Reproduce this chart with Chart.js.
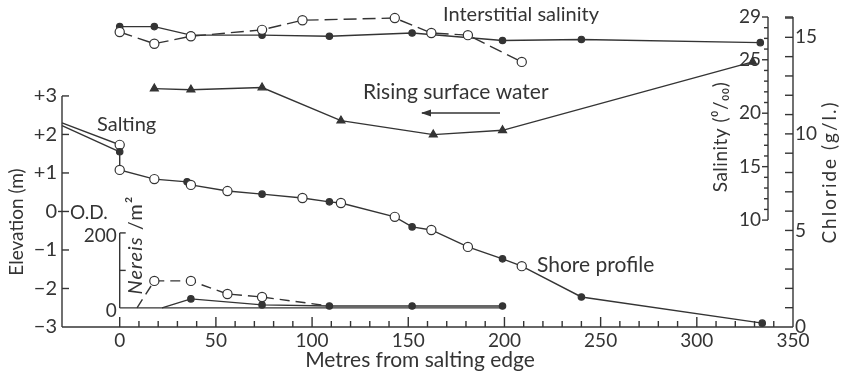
<!DOCTYPE html>
<html>
<head>
<meta charset="utf-8">
<script src="https://cdn.jsdelivr.net/npm/chart.js@4.4.1/dist/chart.umd.min.js"></script>
<style>
  html, body { margin: 0; padding: 0; background: #fff; }
  #wrap { width: 842px; height: 376px; }
</style>
</head>
<body>
<div id="wrap"><canvas id="chart" width="842" height="376"></canvas></div>
<script>
// Distances are metres from the salting edge, elevation in m (O.D.),
// salinity in parts per thousand, Nereis in individuals per m2.

// Shore profile (o = open circle survey, f = filled circle survey, - = no marker)
const profileM     = [-30, 0, 0, 0, 18, 35, 37, 56, 74, 95, 109, 115, 143, 152, 162, 181, 199, 209, 240, 334];
const profileElev  = [2.30, 1.73, 1.55, 1.08, 0.84, 0.77, 0.69, 0.53, 0.45, 0.35, 0.25, 0.22, -0.14, -0.40, -0.48, -0.92, -1.23, -1.42, -2.22, -2.90];
const profileMarks = ['-', 'o', 'f', 'o', 'o', 'f', 'o', 'o', 'f', 'o', 'f', 'o', 'o', 'f', 'o', 'o', 'f', 'o', 'f', 'f'];
// second line over the salting
const saltingM    = [-30, 0];
const saltingElev = [2.23, 1.55];

// Interstitial salinity
const interFilledM   = [0, 18, 37, 74, 109, 152, 199, 240, 333];
const interFilledSal = [28.1, 28.1, 27.3, 27.3, 27.2, 27.5, 26.8, 26.9, 26.6];
const interOpenM     = [0, 18, 37, 74, 95, 143, 162, 181, 209];
const interOpenSal   = [27.6, 26.5, 27.2, 27.8, 28.7, 28.9, 27.5, 27.3, 24.8];

// Rising surface water
const surfaceM   = [18, 37, 74, 115, 163, 199, 329];
const surfaceSal = [22.3, 22.2, 22.4, 19.3, 18.0, 18.4, 24.8];

// Nereis density
const nereisOpenM    = [9, 18, 37, 56, 74, 109];
const nereisOpenN    = [0, 72, 72, 37, 29, 5];
const nereisOpenMk   = ['-', 'o', 'o', 'o', 'o', '-'];
const nereisFilledM  = [22, 37, 74, 109, 152, 199];
const nereisFilledN  = [0, 24, 8, 5, 5, 5];
const nereisFilledMk = ['-', 'f', 'f', 'f', 'f', 'f'];

// axes
const xTicks      = [0, 50, 100, 150, 200, 250, 300, 350];
const elevTicks   = [3, 2, 1, 0, -1, -2, -3];
const salTicks    = [10, 15, 20, 25, 29];
const chlTicks    = [0, 5, 10, 15];
const nereisTicks = [0, 200];
const SAL_PER_CL  = 1.80655;

const INK = '#343434';
const FONT = 'Lato, "Open Sans", sans-serif';

function pts(xs, ys) {
    return xs.map((x, i) => ({ x: x, y: ys[i] }));
}
function markFill(marks) {
    return marks.map(m => m === 'f' ? INK : '#fff');
}
function markRadius(marks) {
    return marks.map(m => m === 'o' ? 4.6 : (m === 'f' ? 3.2 : 0));
}

function line(ctx, x1, y1, x2, y2) {
    ctx.beginPath();
    ctx.moveTo(x1, y1);
    ctx.lineTo(x2, y2);
    ctx.stroke();
}

// text drawn in runs so that parts can be italic; rotated when vertical
function drawRuns(ctx, runs, cx, cy, vertical, spacing) {
    ctx.save();
    ctx.letterSpacing = spacing || '0px';
    let total = 0;
    runs.forEach(r => { ctx.font = r.font; total += ctx.measureText(r.text).width; });
    ctx.translate(cx, cy);
    if (vertical) ctx.rotate(-Math.PI / 2);
    ctx.textAlign = 'left';
    ctx.textBaseline = 'middle';
    let pos = -total / 2;
    runs.forEach(r => {
        ctx.font = r.font;
        ctx.fillText(r.text, pos, 0);
        pos += ctx.measureText(r.text).width;
    });
    ctx.restore();
}

const figureAxes = {
    id: 'figureAxes',
    beforeDatasetsDraw(chart) {
        const { ctx } = chart;
        const { x, yElev, ySal, yCl, yNer } = chart.scales;
        ctx.save();
        ctx.strokeStyle = INK;
        ctx.fillStyle = INK;
        ctx.lineWidth = 1.4;

        const xL = x.getPixelForValue(-30);
        const xR = x.getPixelForValue(350);
        const yB = yElev.getPixelForValue(-3);

        // bottom axis, ticks pointing up every 10 m
        line(ctx, xL, yB, xR, yB);
        for (let m = 0; m < 350; m += 10) {
            const px = x.getPixelForValue(m);
            line(ctx, px, yB, px, yB - (m % 50 === 0 ? 10 : 6));
        }
        ctx.font = '19px ' + FONT;
        ctx.textAlign = 'center';
        ctx.textBaseline = 'top';
        xTicks.forEach(m => ctx.fillText(String(m), x.getPixelForValue(m), yB + 4));

        // elevation axis
        line(ctx, xL, yElev.getPixelForValue(3), xL, yB);
        ctx.font = '20px ' + FONT;
        ctx.textAlign = 'right';
        ctx.textBaseline = 'middle';
        elevTicks.forEach(v => {
            const py = yElev.getPixelForValue(v);
            if (v === 0) line(ctx, xL - 4, py, xL + 7, py);
            else if (v !== -3) line(ctx, xL, py, xL + 7, py);
            const txt = v > 0 ? '+' + v : (v < 0 ? '\u2212' + (-v) : '0');
            ctx.fillText(txt, xL - 5, py);
        });
        ctx.font = '19px ' + FONT;
        ctx.textAlign = 'left';
        ctx.fillText('O.D.', xL + 8, yElev.getPixelForValue(0) + 1);

        // Nereis inset axis at the salting edge
        const xN = x.getPixelForValue(0);
        line(ctx, xN, yNer.getPixelForValue(0), xN, yNer.getPixelForValue(200));
        line(ctx, xN, yNer.getPixelForValue(0), x.getPixelForValue(200), yNer.getPixelForValue(0));
        line(ctx, xN, yNer.getPixelForValue(100), xN + 6, yNer.getPixelForValue(100));
        line(ctx, xN, yNer.getPixelForValue(200), xN + 6, yNer.getPixelForValue(200));
        ctx.font = '19px ' + FONT;
        ctx.textAlign = 'right';
        nereisTicks.forEach(v => ctx.fillText(String(v), xN - 3, yNer.getPixelForValue(v) + 3));

        // salinity axis (left of the chloride axis)
        const xS = xR - 25;
        line(ctx, xS, ySal.getPixelForValue(10), xS, ySal.getPixelForValue(29));
        for (let s = 10; s <= 29; s++) {
            const py = ySal.getPixelForValue(s);
            const major = salTicks.includes(s);
            line(ctx, xS, py, xS - (major ? 6 : 4), py);
        }
        ctx.textAlign = 'right';
        salTicks.forEach(s => ctx.fillText(String(s), xS - 7, ySal.getPixelForValue(s)));

        // chloride axis on the right edge
        const clTop = ySal.max / SAL_PER_CL;
        line(ctx, xR, yB, xR, yCl.getPixelForValue(clTop));
        for (let c = 1; c <= 16; c++) {
            const py = yCl.getPixelForValue(c);
            line(ctx, xR, py, xR - 8, py);
        }
        line(ctx, xR, yCl.getPixelForValue(clTop), xR - 8, yCl.getPixelForValue(clTop));
        ctx.textAlign = 'left';
        chlTicks.forEach(c => ctx.fillText(String(c), xR + 2, yCl.getPixelForValue(c)));
        ctx.restore();
    },
    afterDatasetsDraw(chart) {
        const { ctx } = chart;
        ctx.save();
        ctx.fillStyle = INK;
        ctx.strokeStyle = INK;
        ctx.lineWidth = 1.3;
        const f = '20px ' + FONT;

        drawRuns(ctx, [{ text: 'Elevation (m)', font: '19px ' + FONT }], 17, 222, true);
        drawRuns(ctx, [{ text: 'Metres from salting edge', font: '21px ' + FONT }], 420, 360, false);
        drawRuns(ctx, [{ text: 'Nereis', font: 'italic 20px ' + FONT }, { text: ' /m\u00b2', font: '20px ' + FONT }],
                 136, 245, true, '1px');
        drawRuns(ctx, [{ text: 'Salinity (\u2070/\u2080\u2080)', font: '19px ' + FONT }], 721, 137, true, '0.5px');
        drawRuns(ctx, [{ text: 'Chloride (g/l.)', font: '19px ' + FONT }], 830, 172, true, '2px');

        ctx.font = f;
        ctx.textAlign = 'left';
        ctx.textBaseline = 'middle';
        ctx.fillText('Interstitial salinity', 443, 15);
        ctx.font = '21px ' + FONT;
        ctx.fillText('Rising surface water', 363, 92);
        ctx.fillText('Shore profile', 537, 265);
        ctx.font = f;
        ctx.fillText('Salting', 97, 125);

        // arrow showing the direction the surface water rises
        line(ctx, 500, 113, 422, 113);
        ctx.beginPath();
        ctx.moveTo(421, 113);
        ctx.lineTo(431, 109.5);
        ctx.lineTo(431, 116.5);
        ctx.closePath();
        ctx.fill();
        ctx.restore();
    }
};

const lineStyle = {
    showLine: true,
    borderColor: INK,
    borderWidth: 1.4,
    pointBorderColor: INK,
    pointBorderWidth: 1.2,
    pointHoverRadius: 0,
    clip: false,
    tension: 0
};

const ctx = document.getElementById('chart').getContext('2d');
new Chart(ctx, {
    type: 'scatter',
    data: {
        datasets: [
            Object.assign({}, lineStyle, {
                label: 'Shore profile',
                data: pts(profileM, profileElev),
                yAxisID: 'yElev',
                pointBackgroundColor: markFill(profileMarks),
                pointRadius: markRadius(profileMarks)
            }),
            Object.assign({}, lineStyle, {
                label: 'Salting',
                data: pts(saltingM, saltingElev),
                yAxisID: 'yElev',
                pointRadius: 0
            }),
            Object.assign({}, lineStyle, {
                label: 'Interstitial salinity (open)',
                data: pts(interOpenM, interOpenSal),
                yAxisID: 'ySal',
                borderDash: [13, 6],
                pointBackgroundColor: '#fff',
                pointRadius: 4.6
            }),
            Object.assign({}, lineStyle, {
                label: 'Interstitial salinity (filled)',
                data: pts(interFilledM, interFilledSal),
                yAxisID: 'ySal',
                pointBackgroundColor: INK,
                pointRadius: 3.2
            }),
            Object.assign({}, lineStyle, {
                label: 'Rising surface water',
                data: pts(surfaceM, surfaceSal),
                yAxisID: 'ySal',
                pointStyle: 'triangle',
                pointBackgroundColor: INK,
                pointRadius: 4.6
            }),
            Object.assign({}, lineStyle, {
                label: 'Nereis (open)',
                data: pts(nereisOpenM, nereisOpenN),
                yAxisID: 'yNer',
                borderDash: [10, 6],
                pointBackgroundColor: markFill(nereisOpenMk),
                pointRadius: markRadius(nereisOpenMk)
            }),
            Object.assign({}, lineStyle, {
                label: 'Nereis (filled)',
                data: pts(nereisFilledM, nereisFilledN),
                yAxisID: 'yNer',
                pointBackgroundColor: markFill(nereisFilledMk),
                pointRadius: markRadius(nereisFilledMk)
            })
        ]
    },
    options: {
        responsive: false,
        animation: false,
        layout: { padding: { left: 62, right: 49, top: 17, bottom: 49 } },
        plugins: { legend: { display: false }, tooltip: { enabled: false } },
        scales: {
            x:     { type: 'linear', min: -30, max: 350, display: false },
            yElev: { type: 'linear', min: -3, max: 5.05, display: false },
            ySal:  { type: 'linear', min: 0, max: 29, display: false },
            yCl:   { type: 'linear', min: 0, max: 29 / SAL_PER_CL, display: false },
            yNer:  { type: 'linear', min: -51, max: 776, display: false }
        }
    },
    plugins: [figureAxes]
});
</script>
</body>
</html>
